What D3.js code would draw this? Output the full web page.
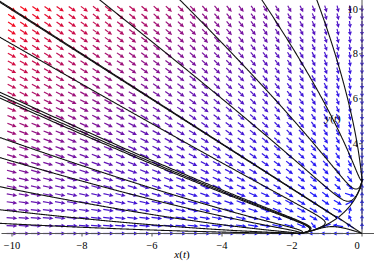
<!DOCTYPE html>
<html>
<head>
<meta charset="utf-8">
<script src="https://cdn.jsdelivr.net/npm/d3@7"></script>
<style>
  body { margin: 0; background: #fff; }
  svg { display: block; }
  text { font-family: "Liberation Serif", "DejaVu Serif", serif; }
</style>
</head>
<body>
<svg id="chart" width="374" height="263"></svg>
<script>
// tick labels
const xTicks = [-10, -8, -6, -4, -2, 0];
const yTicks = [2, 4, 6, 8, 10];
const yTickLabels = ['', '4', '6', '8', '10'];

// system: x' = x(a + b x + c y), y' = y(d + e x + f y)
const coefX = [1, 0.556, -0.873];
const coefY = [1, 1.012, -0.417];

// direction field grid
const gridN = 30;
const xRange = [-10, 0];
const yRange = [0, 10];

// initial conditions of the drawn solution curves
const startPoints = [
    [-10.3, 10.3], [-10.3, 8.7], [-10.3, 6.26], [-10.3, 6.12], [-10.3, 6.0],
    [-10.3, 4.25], [-10.3, 3.36], [-10.3, 2.07], [-10.3, 1.05], [-10.3, 0.45],
    [-7.49, 10.4], [-5.2, 10.4], [-2.86, 10.4], [-1.29, 10.4],
    [-0.55, 0.25], [-0.74, 0.72], [-0.66, 0.7]
];

const width = 374, height = 263;
const svg = d3.select('#chart');

const x = d3.scaleLinear().domain(xRange).range([12, 362]);
const y = d3.scaleLinear().domain(yRange).range([233.5, 9]);
const view = { x0: -10.3, x1: 0.35, y0: 0, y1: 10.45 };

function field(px, py) {
    const dx = px * (coefX[0] + coefX[1] * px + coefX[2] * py);
    const dy = py * (coefY[0] + coefY[1] * px + coefY[2] * py);
    return [dx, dy];
}

// arrows
const cellW = (x(xRange[1]) - x(xRange[0])) / (gridN - 1);
const cellH = (y(yRange[0]) - y(yRange[1])) / (gridN - 1);
const arrows = [];
for (let i = 0; i < gridN; i++) {
    for (let j = 0; j < gridN; j++) {
        const gx = xRange[0] + (xRange[1] - xRange[0]) * i / (gridN - 1);
        const gy = yRange[0] + (yRange[1] - yRange[0]) * j / (gridN - 1);
        const [u, v] = field(gx, gy);
        const mag = Math.hypot(u, v);
        arrows.push({ gx, gy, u, v, mag });
    }
}
const maxMag = d3.max(arrows, d => d.mag);
const color = d3.interpolateRgb('#1a1aff', '#ff0a14');

const arrowLayer = svg.append('g');
arrows.forEach(d => {
    if (d.mag < 1e-9) return;
    const nx = d.u / d.mag, ny = d.v / d.mag;
    const k = 0.45;
    const vx = nx * cellW * k * 2, vy = -ny * cellH * k * 2;
    const cx = x(d.gx), cy = y(d.gy);
    const x1 = cx - vx / 2, y1 = cy - vy / 2;
    const x2 = cx + vx / 2, y2 = cy + vy / 2;
    const len = Math.hypot(vx, vy);
    const ux = vx / len, uy = vy / len;
    const hl = Math.min(4.2, len * 0.55), hw = 2;
    const bx = x2 - ux * hl, by = y2 - uy * hl;
    const c = color(Math.pow(d.mag / maxMag, 0.85));
    arrowLayer.append('line')
        .attr('x1', x1).attr('y1', y1).attr('x2', bx).attr('y2', by)
        .attr('stroke', c).attr('stroke-width', 1.2);
    arrowLayer.append('path')
        .attr('d', `M${x2},${y2}L${bx - uy * hw},${by + ux * hw}L${bx + uy * hw},${by - ux * hw}Z`)
        .attr('fill', c);
});

// axes
const axisLayer = svg.append('g').attr('stroke', '#555').attr('stroke-width', 1);
axisLayer.append('line')
    .attr('x1', x(view.x0)).attr('x2', x(view.x1))
    .attr('y1', y(0)).attr('y2', y(0));
axisLayer.append('line')
    .attr('x1', x(0)).attr('x2', x(0))
    .attr('y1', y(0)).attr('y2', y(view.y1));

xTicks.forEach(t => {
    axisLayer.append('line')
        .attr('x1', x(t)).attr('x2', x(t))
        .attr('y1', y(0)).attr('y2', y(0) + 3);
    svg.append('text')
        .attr('x', t === 0 ? x(t) - 5 : x(t))
        .attr('y', y(0) + 15)
        .attr('text-anchor', 'middle')
        .attr('font-size', 10.5)
        .text(t < 0 ? '\u2212' + Math.abs(t) : t);
});
yTicks.forEach((t, i) => {
    axisLayer.append('line')
        .attr('x1', x(0) - 3).attr('x2', x(0))
        .attr('y1', y(t)).attr('y2', y(t));
    svg.append('text')
        .attr('x', x(0) - 4)
        .attr('y', y(t) + 3.5)
        .attr('text-anchor', 'end')
        .attr('font-size', 10.5)
        .text(yTickLabels[i]);
});

// solution curves
function step(p, dir, h) {
    // move a fixed pixel length along the field
    const f = q => {
        const [u, v] = field(q[0], q[1]);
        const pu = u * 35, pv = v * 22.45;
        const n = Math.hypot(pu, pv) || 1;
        return [dir * pu / n / 35, dir * pv / n / 22.45];
    };
    const k1 = f(p);
    const k2 = f([p[0] + h * k1[0] / 2, p[1] + h * k1[1] / 2]);
    const k3 = f([p[0] + h * k2[0] / 2, p[1] + h * k2[1] / 2]);
    const k4 = f([p[0] + h * k3[0], p[1] + h * k3[1]]);
    return [p[0] + h * (k1[0] + 2 * k2[0] + 2 * k3[0] + k4[0]) / 6,
            p[1] + h * (k1[1] + 2 * k2[1] + 2 * k3[1] + k4[1]) / 6];
}

function trace(p0, dir) {
    const pts = [p0];
    let p = p0;
    for (let s = 0; s < 3000; s++) {
        const [u, v] = field(p[0], p[1]);
        if (Math.hypot(u, v) < 1e-3) break;
        const q = step(p, dir, 0.6);
        if (q[0] < view.x0 - 0.5 || q[0] > view.x1 || q[1] < -0.05 || q[1] > view.y1 + 0.5) break;
        if (pts.length > 4) {
            const prev = pts[pts.length - 3];
            if (Math.hypot(x(q[0]) - x(prev[0]), y(q[1]) - y(prev[1])) < 0.3) break;
        }
        pts.push(q);
        p = q;
    }
    return pts;
}

svg.append('clipPath').attr('id', 'clip')
    .append('rect').attr('x', 0).attr('y', 0).attr('width', width).attr('height', y(0) + 1);

const line = d3.line().x(d => x(d[0])).y(d => y(d[1]));
const curveLayer = svg.append('g').attr('clip-path', 'url(#clip)');
startPoints.forEach(p => {
    const back = trace(p, -1).reverse();
    const fwd = trace(p, 1);
    const pts = back.concat(fwd.slice(1));
    curveLayer.append('path')
        .attr('d', line(pts))
        .attr('fill', 'none')
        .attr('stroke', '#111')
        .attr('stroke-width', 1.1);
});

// axis titles
const xl = svg.append('text').attr('x', 182).attr('y', 258).attr('text-anchor', 'middle').attr('font-size', 11);
xl.append('tspan').attr('font-style', 'italic').text('x');
xl.append('tspan').text('(');
xl.append('tspan').attr('font-style', 'italic').text('t');
xl.append('tspan').text(')');
const yl = svg.append('text').attr('x', 333).attr('y', 122).attr('text-anchor', 'middle').attr('font-size', 11);
yl.append('tspan').attr('font-style', 'italic').text('y');
yl.append('tspan').text('(');
yl.append('tspan').attr('font-style', 'italic').text('t');
yl.append('tspan').text(')');
</script>
</body>
</html>
